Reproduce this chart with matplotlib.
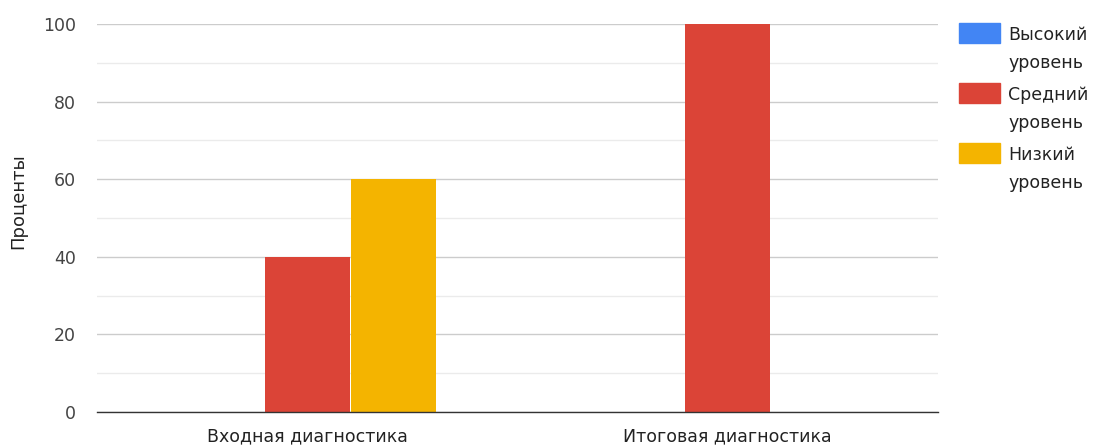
import matplotlib
matplotlib.use("Agg")
import matplotlib.pyplot as plt
from matplotlib.patches import Rectangle
import numpy as np

plt.rcParams['font.family'] = ['DejaVu Sans']

categories = ["Входная диагностика", "Итоговая диагностика"]
series_names = ["Высокий\nуровень", "Средний\nуровень", "Низкий\nуровень"]
series_values = [
    [0, 0],     # Высокий уровень
    [40, 100],  # Средний уровень
    [60, 0],    # Низкий уровень
]
colors = ["#4285f4", "#db4437", "#f4b400"]
y_ticks = [0, 20, 40, 60, 80, 100]

FS = 12.5

fig = plt.figure(figsize=(10.94, 4.45), dpi=100)
ax = fig.add_axes([97 / 1094, 33 / 445, 841 / 1094, 388 / 445])

x = np.arange(len(categories))
width = 0.205
for i, (vals, col) in enumerate(zip(series_values, colors)):
    offs = (i - 1) * width
    ax.bar(x + offs, vals, width=width * 0.99, color=col, zorder=3,
           edgecolor="none")

ax.set_xlim(-0.5, len(categories) - 0.5)
ax.set_ylim(0, 100)
ax.set_yticks(y_ticks)
ax.set_yticks([10, 30, 50, 70, 90], minor=True)
ax.set_xticks(x)
ax.set_xticklabels(categories, fontsize=FS, color="#222222")
ax.tick_params(axis="x", length=0, pad=11)
ax.tick_params(axis="y", which="both", length=0, pad=15, labelsize=FS,
               labelcolor="#444444")

ax.grid(axis="y", which="major", color="#cccccc", linewidth=1, zorder=0)
ax.grid(axis="y", which="minor", color="#ebebeb", linewidth=1, zorder=0)
ax.grid(axis="x", visible=False)
for s in ["top", "right", "left"]:
    ax.spines[s].set_visible(False)
ax.spines["bottom"].set_color("#333333")
ax.spines["bottom"].set_linewidth(1)
ax.spines["bottom"].set_zorder(4)

fig.text(18 / 1094, 1 - 201 / 445, "Проценты", rotation=90, ha="center",
         va="center", fontsize=13, color="#222222")

# Legend drawn on the right, one entry per series
for i, (name, col) in enumerate(zip(series_names, colors)):
    top = 23 + i * 60
    fig.patches.append(Rectangle((959 / 1094, 1 - (top + 20) / 445),
                                 41 / 1094, 20 / 445, color=col,
                                 transform=fig.transFigure, figure=fig))
    fig.text(1008 / 1094, 1 - (top + 3) / 445, name, ha="left", va="top",
             fontsize=FS, color="#222222", linespacing=1.68)

fig.savefig("out.png", dpi=100)
